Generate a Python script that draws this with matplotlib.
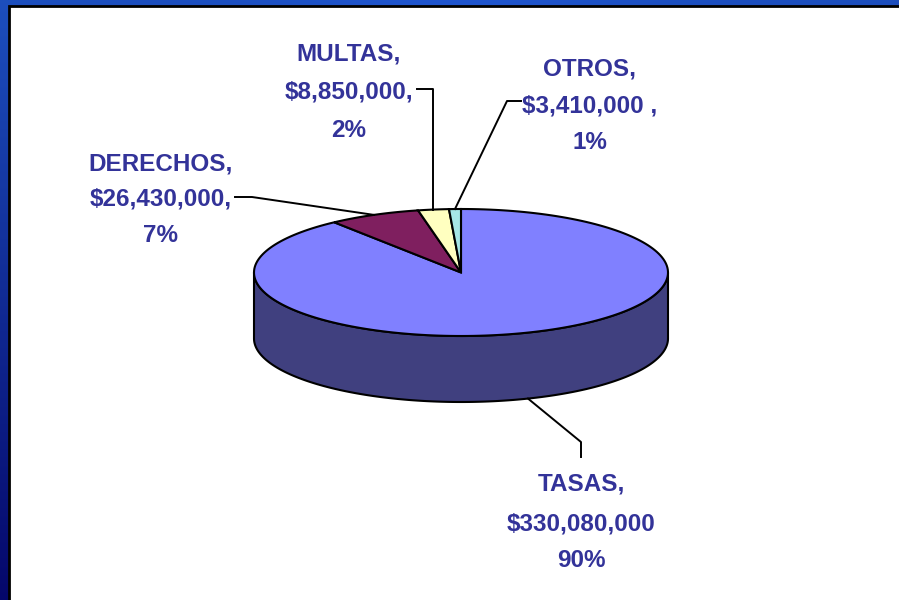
import numpy as np
import matplotlib
matplotlib.use("Agg")
import matplotlib.pyplot as plt
from matplotlib.patches import Polygon, Rectangle

# ---- data ----
categories = ["TASAS", "DERECHOS", "MULTAS", "OTROS"]
values = [330080000, 26430000, 8850000, 3410000]
value_suffix = ["", ",", ",", " ,"]
top_colors = ["#8080FF", "#7F1F5F", "#FFFFC0", "#A6E6E6"]
side_colors = ["#40407F", "#3F0F2F", "#80805F", "#537373"]
text_color = "#333399"

W, H = 899, 600
fig = plt.figure(figsize=(W / 100, H / 100), dpi=100)

# ---- slide background gradient ----
bg = fig.add_axes([0, 0, 1, 1])
yy = np.linspace(0, 1, H)[:, None, None]
xx = np.linspace(0, 1, W)[None, :, None]
c_top = np.array([0.12, 0.33, 0.80])
c_bot = np.array([0.02, 0.03, 0.45])
img = c_top * (1 - yy) + c_bot * yy
img = img * (0.93 + 0.08 * np.exp(-((xx - 0.5) / 0.2) ** 2))
img = np.clip(np.broadcast_to(img, (H, W, 3)), 0, 1)
bg.imshow(img, extent=[0, W, H, 0], aspect="auto")
bg.set_xlim(0, W)
bg.set_ylim(H, 0)
bg.axis("off")
bg.add_patch(Rectangle((9, 6), W + 20, H + 20, facecolor="white",
                       edgecolor="black", lw=2))

# ---- pie axes (pixel-consistent units: 1 unit = radius) ----
R = 207.0
cx, cy = 461.0, 272.5
ry = 63.5 / R
depth = 66.0 / R
ax = fig.add_axes([0, 0, 1, 1])
ax.patch.set_alpha(0)
ax.axis("off")
ax.set_xlim((0 - cx) / R, (W - cx) / R)
ax.set_ylim((cy - H) / R, cy / R)


def px(x, y):
    return (x - cx) / R, (cy - y) / R


vals = np.array(values, dtype=float)
total = vals.sum()
fracs = vals / total
cum = np.concatenate([[0], np.cumsum(fracs)[:-1]])
theta1 = 90 - 360 * cum
theta2 = theta1 - 360 * fracs


def arc(a, b, dy=0.0, n=200):
    t = np.radians(np.linspace(a, b, n))
    return np.column_stack([np.cos(t), ry * np.sin(t) + dy])


# side walls (front half only)
for i in range(len(vals)):
    for k in range(-2, 3):
        lo = max(theta2[i], 180 + 360 * k)
        hi = min(theta1[i], 360 + 360 * k)
        if lo < hi:
            pts = np.vstack([arc(lo, hi), arc(hi, lo, -depth)])
            ax.add_patch(Polygon(pts, closed=True, facecolor=side_colors[i],
                                 edgecolor="black", lw=1.5, zorder=2))

# top faces
for i in range(len(vals)):
    pts = np.vstack([[0, 0], arc(theta1[i], theta2[i])])
    ax.add_patch(Polygon(pts, closed=True, facecolor=top_colors[i],
                         edgecolor="black", lw=1.5, joinstyle="miter", zorder=3))

# ---- labels ----
label_pos = {  # center x, baselines (pixels)
    "TASAS": (581, [491, 530, 567]),
    "DERECHOS": (161, [170, 205, 242]),
    "MULTAS": (349, [60, 98, 137]),
    "OTROS": (590, [75, 112, 149]),
}
leader_start = {
    "TASAS": [(581, 457), (581, 442)],
    "DERECHOS": [(235, 197), (252, 197)],
    "MULTAS": [(417, 89), None],
    "OTROS": [(521, 101), (507, 101)],
}

for i, name in enumerate(categories):
    pct = int(round(fracs[i] * 100))
    lines = [f"{name},", f"${values[i]:,}{value_suffix[i]}", f"{pct}%"]
    x0, bases = label_pos[name]
    for ln, b in zip(lines, bases):
        ax.text(*px(x0, b), ln, ha="center", va="baseline",
                fontsize=17.5, fontweight="bold", color=text_color,
                family=["Liberation Sans", "DejaVu Sans"], zorder=5)
    mid = np.radians((theta1[i] + theta2[i]) / 2)
    ay = ry * np.sin(mid) - (depth if np.sin(mid) < 0 else 0)
    anchor = (np.cos(mid), ay)
    p0, p1 = leader_start[name]
    p0 = px(*p0)
    if p1 is None:
        p1 = (anchor[0], p0[1])
    else:
        p1 = px(*p1)
    ax.plot([p0[0], p1[0], anchor[0]], [p0[1], p1[1], anchor[1]],
            color="black", lw=1.4, zorder=4)

fig.savefig("out.png", dpi=100)
